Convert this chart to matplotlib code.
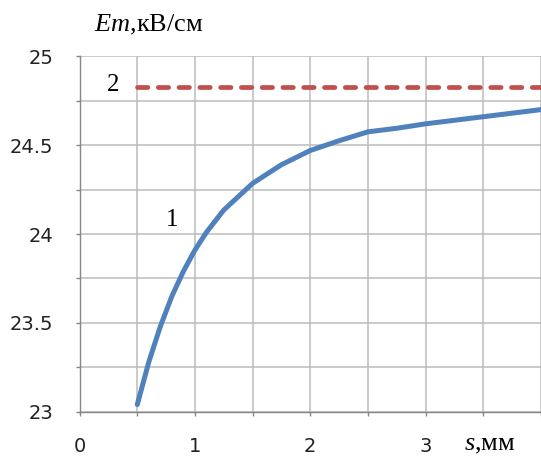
import matplotlib.pyplot as plt
from matplotlib.ticker import MultipleLocator, FuncFormatter

plt.rcParams['mathtext.fontset'] = 'custom'
plt.rcParams['mathtext.it'] = 'Liberation Serif:italic'
plt.rcParams['mathtext.rm'] = 'Liberation Serif'

# кривая 1 (расчёт) и уровень 2
s_mm = [0.5, 0.6, 0.7, 0.8, 0.9, 1.0, 1.1, 1.25, 1.5, 1.75, 2.0, 2.25,
        2.5, 2.75, 3.0, 3.25, 3.5, 3.75, 4.0]
Et_1 = [23.04, 23.28, 23.48, 23.65, 23.79, 23.91, 24.01, 24.135, 24.285, 24.39,
        24.47, 24.525, 24.575, 24.595, 24.62, 24.64, 24.66, 24.68, 24.70]
s_2 = [0.5, 4.0]
Et_2 = [24.83, 24.83]

x_labels = {0: '0', 1: '1', 2: '2', 3: '3'}
y_labels = {23.0: '23', 23.5: '23.5', 24.0: '24', 24.5: '24.5', 25.0: '25'}

W, H = 541, 459
fig = plt.figure(figsize=(W / 100, H / 100), dpi=100)
ax = fig.add_axes([79.6 / W, 47.3 / H, 1 - 79.6 / W, (411.7 - 56.3) / H])

ax.plot(s_mm, Et_1, color='#4F81BD', lw=3.6, solid_capstyle='round',
        solid_joinstyle='round', zorder=3)
ax.plot(s_2, Et_2, color='#C0504D', lw=3.4, ls=(0, (2.2, 2.2)),
        dash_capstyle='round', zorder=3)

ax.set_xlim(0, 4.0)
ax.set_ylim(23, 25)
ax.xaxis.set_major_locator(MultipleLocator(0.5))
ax.yaxis.set_major_locator(MultipleLocator(0.25))
ax.xaxis.set_major_formatter(FuncFormatter(lambda v, p: x_labels.get(round(v, 2), '')))
ax.yaxis.set_major_formatter(FuncFormatter(lambda v, p: y_labels.get(round(v, 2), '')))

for sp in ['top', 'right']:
    ax.spines[sp].set_visible(False)
for sp in ['left', 'bottom']:
    ax.spines[sp].set_color('#868686')
    ax.spines[sp].set_linewidth(1.0)

ax.tick_params(length=3, color='#868686', width=1.0, labelsize=14,
               labelcolor='#222222')
ax.tick_params(axis='y', pad=16)
ax.tick_params(axis='x', pad=15)
for lbl in ax.get_xticklabels() + ax.get_yticklabels():
    lbl.set_family('DejaVu Sans')

ax.grid(True, color='#bcbcbc', lw=1.1)
ax.set_axisbelow(True)

serif = 'Liberation Serif'
ax.text(0.60, 25.176, r'$\mathit{Em}$,кВ/см', family=serif, fontsize=19,
        ha='center', va='center', clip_on=False)
ax.text(3.56, 22.81, r'$\mathit{s}$,мм', family=serif, fontsize=19,
        ha='center', va='center', clip_on=False)
ax.text(0.29, 24.84, '2', family=serif, fontsize=18, ha='center', va='center')
ax.text(0.80, 24.08, '1', family=serif, fontsize=18, ha='center', va='center')

fig.savefig('out.png', dpi=100)
